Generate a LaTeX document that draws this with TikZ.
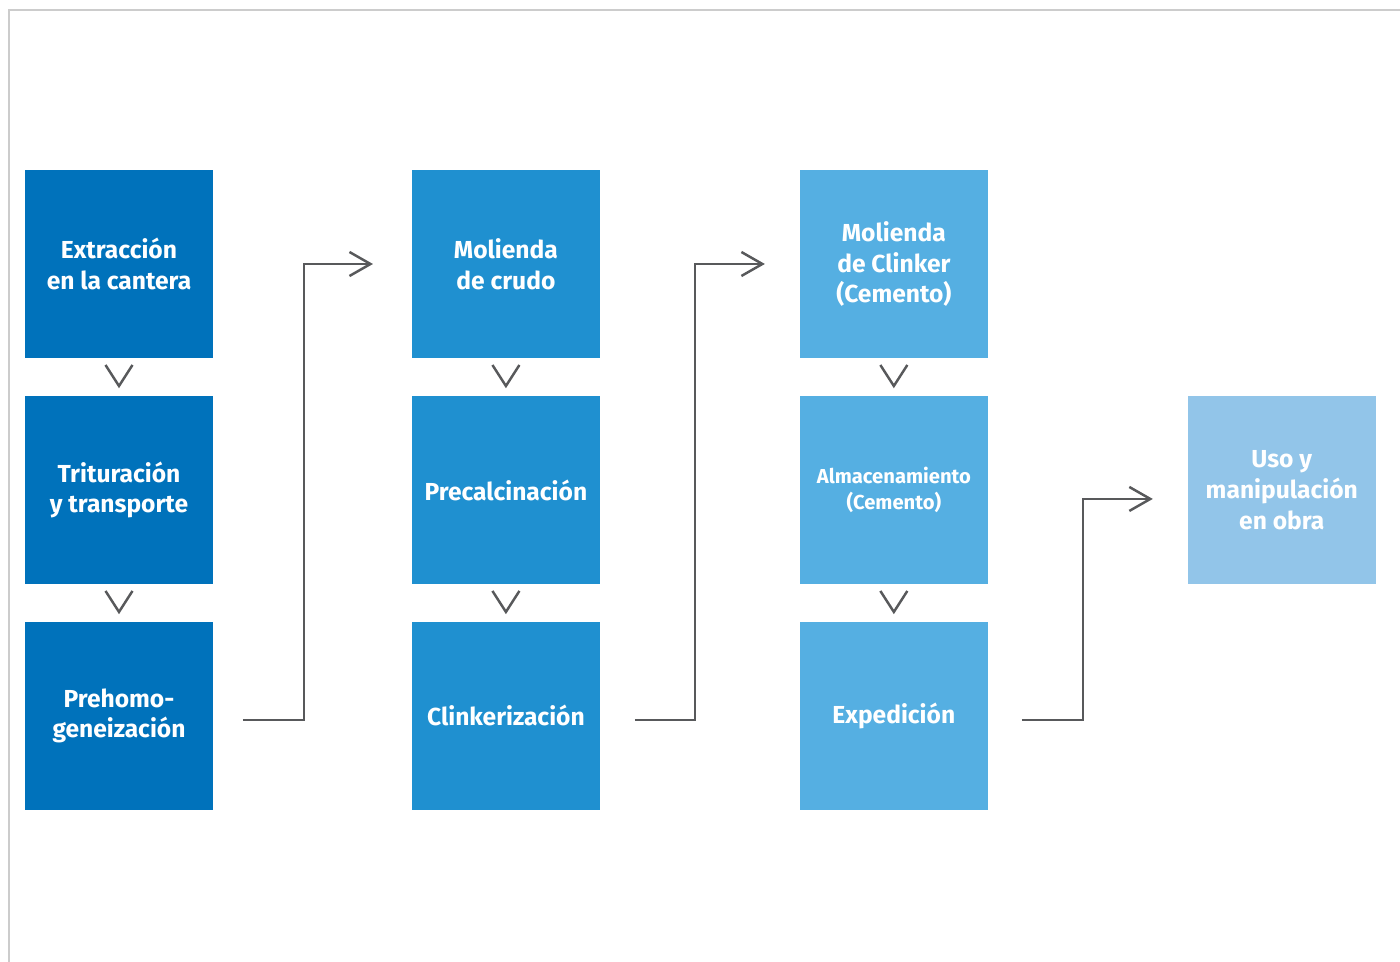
\documentclass[tikz,border=0pt]{standalone}
\usepackage{fontspec}
\setmainfont{Fira Sans}
\usetikzlibrary{positioning,arrows.meta,calc}
\definecolor{azulA}{HTML}{0072BB}
\definecolor{azulB}{HTML}{1F90D0}
\definecolor{azulC}{HTML}{55AFE2}
\definecolor{azulD}{HTML}{92C5E9}
\definecolor{gris}{HTML}{58595B}
\definecolor{marco}{HTML}{CCCCCC}

\begin{document}
\begin{tikzpicture}[x=0.02cm,y=-0.02cm,
    paso/.style={minimum width=3.76cm, minimum height=3.76cm, inner sep=0pt, outer sep=0pt,
      align=center, text=white, font=\bfseries\fontsize{14}{17.6}\selectfont},
    flecha/.style={draw=gris, line width=1.4pt, -{Straight Barb[length=0.42cm,width=0.48cm]}},
    chev/.style={draw=gris, line width=1.4pt}]
            \useasboundingbox (0,0) rectangle (1400,962);
            \draw[marco, line width=0.8pt] (9,962) -- (9,10) -- (1400,10);
            % primera columna
            \node[paso, fill=azulA] (ext) at (119,264) {Extracción\\en la cantera};
            \node[paso, fill=azulA, below=0.76cm of ext] (tri) {Trituración\\y transporte};
            \node[paso, fill=azulA, below=0.76cm of tri] (pre) {Prehomo-\\geneización};
            % segunda columna
            \node[paso, fill=azulB, right=3.98cm of ext] (mcr) {Molienda\\de crudo};
            \node[paso, fill=azulB, below=0.76cm of mcr] (pca) {Precalcinación};
            \node[paso, fill=azulB, below=0.76cm of pca] (cli) {Clinkerización};
            % tercera columna
            \node[paso, fill=azulC, right=4cm of mcr] (mcl) {Molienda\\de Clinker\\(Cemento)};
            \node[paso, fill=azulC, below=0.76cm of mcl, font=\bfseries\fontsize{11.5}{14.7}\selectfont] (alm) {Almacenamiento\\(Cemento)};
            \node[paso, fill=azulC, below=0.76cm of alm] (exp) {Expedición};
            % final
            \node[paso, fill=azulD, right=4cm of alm] (uso) {Uso y\\manipulación\\en obra};
            % flechas
            \foreach \a in {ext,tri,mcr,pca,mcl,alm}
                \draw[chev] ($(\a.south)+(-13.5,7)$) -- ++(13.5,21) -- ++(13.5,-21);
            \draw[flecha, shorten <=0.6cm, shorten >=0.78cm] ($(pre.east)+(0,4)$) -- ++(91,0) |- (mcr.west);
            \draw[flecha, shorten <=0.7cm, shorten >=0.7cm] ($(cli.east)+(0,4)$) -- ++(95,0) |- (mcl.west);
            \draw[flecha, shorten <=0.68cm, shorten >=0.7cm] ($(exp.east)+(0,4)$) -- ++(95,0) |- ($(uso.west)+(0,9)$);
        \end{tikzpicture}
\end{document}
